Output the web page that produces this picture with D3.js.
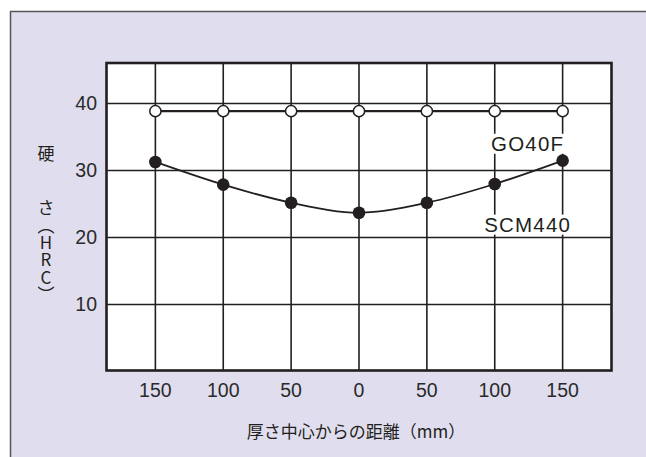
<!DOCTYPE html>
<html><head><meta charset="utf-8">
<script src="https://cdn.jsdelivr.net/npm/d3@7"></script>
<style>
html,body{margin:0;padding:0;background:#fff;}
svg{display:block;}
</style></head>
<body>
<svg id="chart" width="646" height="457"></svg>
<script>
const distances = ["150","100","50","0","50","100","150"];
const go40f = [38.8, 38.8, 38.8, 38.8, 38.8, 38.8, 38.8];
const scm440 = [31.2, 27.8, 25.1, 23.6, 25.1, 27.9, 31.4];
const yTicks = [10, 20, 30, 40];
const seriesNames = ["GO40F", "SCM440"];
const yTitleTop = "硬";
const yTitleRest = "さ（HRC）";
const xTitle = "厚さ中心からの距離（mm）";

const svg = d3.select("#chart");
const W = 646, H = 457;
const ink = "#231f20";
const font = "'Liberation Sans', Arial, sans-serif";
const cjk = "'Noto Sans CJK JP', sans-serif";

// panel
svg.append("rect").attr("x", 10.5).attr("y", 11.5).attr("width", W + 10).attr("height", H + 10)
  .attr("fill", "#e0deee").attr("stroke", "#555").attr("stroke-width", 1.5);

const plot = {l: 106.5, r: 611.5, t: 63, b: 370.5};
const x = d3.scalePoint().domain(d3.range(distances.length)).range([plot.l, plot.r]).padding(0.72);
const y = d3.scaleLinear().domain([0, 46]).range([plot.b, plot.t]);

svg.append("rect").attr("x", plot.l).attr("y", plot.t).attr("width", plot.r - plot.l).attr("height", plot.b - plot.t)
  .attr("fill", "#fff");

const g = svg.append("g");
g.selectAll("line.h").data(yTicks).join("line")
  .attr("x1", plot.l).attr("x2", plot.r)
  .attr("y1", d => Math.round(y(d)) + 0.5).attr("y2", d => Math.round(y(d)) + 0.5)
  .attr("stroke", ink).attr("stroke-width", 1.6);
g.selectAll("line.v").data(d3.range(distances.length)).join("line")
  .attr("x1", d => x(d)).attr("x2", d => x(d))
  .attr("y1", plot.t).attr("y2", plot.b)
  .attr("stroke", ink).attr("stroke-width", 1.6);

// series labels with white backing
const labelPos = [
  {name: seriesNames[0], v: 34.0},
  {name: seriesNames[1], v: 21.9}
];
labelPos.forEach(p => {
  const cx = (x(5) + x(6)) / 2 - 1;
  const t = svg.append("text").attr("x", cx).attr("y", y(p.v))
    .attr("text-anchor", "middle").attr("dominant-baseline", "central")
    .attr("font-family", font).attr("font-size", 20.5).attr("letter-spacing", 1.2)
    .attr("fill", ink).text(p.name);
  const bb = t.node().getBBox();
  svg.insert("rect", "text").attr("x", bb.x - 3).attr("y", bb.y + 2).attr("width", bb.width + 4).attr("height", bb.height - 3)
    .attr("fill", "#fff");
});

// frame
svg.append("rect").attr("x", plot.l).attr("y", plot.t).attr("width", plot.r - plot.l).attr("height", plot.b - plot.t)
  .attr("fill", "none").attr("stroke", ink).attr("stroke-width", 2.6);

// SCM440
const line = d3.line().x((d, i) => x(i)).y(d => y(d)).curve(d3.curveMonotoneX);
svg.append("path").datum(scm440).attr("d", line).attr("fill", "none").attr("stroke", ink).attr("stroke-width", 1.8);
svg.selectAll("circle.s").data(scm440).join("circle")
  .attr("cx", (d, i) => x(i)).attr("cy", d => y(d)).attr("r", 6.3).attr("fill", ink);

// GO40F
const line2 = d3.line().x((d, i) => x(i)).y(d => y(d));
svg.append("path").datum(go40f).attr("d", line2).attr("fill", "none").attr("stroke", ink).attr("stroke-width", 2.2);
svg.selectAll("circle.g").data(go40f).join("circle")
  .attr("cx", (d, i) => x(i)).attr("cy", d => y(d)).attr("r", 5.6)
  .attr("fill", "#fff").attr("stroke", ink).attr("stroke-width", 1.5);

// y tick labels
svg.selectAll("text.yt").data(yTicks).join("text")
  .attr("x", 97).attr("y", d => y(d)).attr("text-anchor", "end").attr("dominant-baseline", "central")
  .attr("font-family", font).attr("font-size", 19.5).attr("fill", "#2a2a2a").text(d => d);

// x tick labels
svg.selectAll("text.xt").data(distances).join("text")
  .attr("x", (d, i) => x(i)).attr("y", 390).attr("text-anchor", "middle").attr("dominant-baseline", "central")
  .attr("font-family", font).attr("font-size", 19.5).attr("fill", "#2a2a2a").text(d => d);

// x title
svg.append("text").attr("x", 356).attr("y", 430).attr("text-anchor", "middle").attr("dominant-baseline", "central")
  .attr("font-family", cjk).attr("font-size", 17).attr("fill", ink).text(xTitle);

// y title
svg.append("text").attr("x", 46).attr("y", 152)
  .attr("text-anchor", "middle").attr("dominant-baseline", "central")
  .attr("font-family", cjk).attr("font-size", 17).attr("fill", ink).text(yTitleTop);
svg.append("text").attr("x", 46).attr("y", 199.5)
  .attr("text-anchor", "start")
  .style("writing-mode", "vertical-rl").style("text-orientation", "upright")
  .attr("font-family", cjk).attr("font-size", 17).attr("letter-spacing", 0.3)
  .attr("fill", ink).text(yTitleRest);
</script>
</body></html>
